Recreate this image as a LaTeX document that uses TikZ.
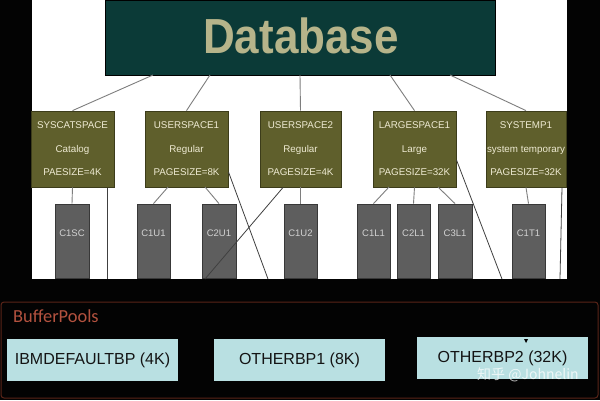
\documentclass[tikz,border=0pt]{standalone}
\usepackage{fontspec}
\setmainfont{Liberation Sans}
\newfontfamily\calfont{Carlito}
\newfontfamily\cjkfont{Noto Sans CJK SC}
\definecolor{bgblack}{HTML}{030303}
\definecolor{dbfill}{HTML}{0B3A37}
\definecolor{dbtext}{HTML}{B6B48A}
\definecolor{tsfill}{HTML}{5F5F2C}
\definecolor{tsdraw}{HTML}{3C3C1A}
\definecolor{tstext}{HTML}{EEEAD2}
\definecolor{ctfill}{HTML}{5E5E5E}
\definecolor{ctdraw}{HTML}{383838}
\definecolor{cttext}{HTML}{D2D2D2}
\definecolor{linegray}{HTML}{7E7E7E}
\definecolor{bpfill}{HTML}{B9E0E2}
\definecolor{bptext}{HTML}{141414}
\definecolor{bpred}{HTML}{B4523F}
\definecolor{bpframe}{HTML}{5A2418}
\begin{document}
\begin{tikzpicture}[x=1pt,y=-1pt,
  dbbox/.style={fill=dbfill,draw=black,line width=0.8pt,minimum width=390pt,minimum height=75pt,inner sep=0pt},
  tsbox/.style={fill=tsfill,draw=tsdraw,line width=0.8pt,minimum height=76pt,inner sep=0pt,
     text=tstext,font=\fontsize{9.8}{23.5}\selectfont,align=center},
  ctbox/.style={fill=ctfill,draw=ctdraw,line width=0.8pt,minimum width=34pt,minimum height=74pt,inner sep=0pt},
  cttxt/.style={text=cttext,font=\fontsize{9.5}{11}\selectfont,inner sep=0pt},
  conn/.style={draw=linegray,line width=0.9pt},
  bpline/.style={draw=black!75,line width=0.8pt},
  bpbox/.style={fill=bpfill,minimum width=171pt,minimum height=42pt,inner sep=0pt,
     text=bptext,font=\fontsize{16}{18}\selectfont}]
\useasboundingbox (0,0) rectangle (600,400);
\fill[bgblack] (0,0) rectangle (600,400);
% white panel
\fill[white] (32,0) rectangle (567,279);
% database
\node[dbbox] (db) at (300,37.5) {};
\node[text=dbtext,inner sep=0pt,font=\bfseries\fontsize{44}{44}\selectfont] (dbt) at (301,36) {\scalebox{1}[1.12]{Database}};
% coordinates on the database bottom
\coordinate (d1) at (153,75);
\coordinate (d2) at (210,75);
\coordinate (d3) at (300,75);
\coordinate (d4) at (390,75);
\coordinate (d5) at (450,75);
% tablespaces
\node[tsbox,minimum width=83pt] (sys) at (72.5,149) {SYSCATSPACE\\Catalog\\PAESIZE=4K};
\node[tsbox,minimum width=83pt] (us1) at (186.5,149) {USERSPACE1\\Regular\\PAGESIZE=8K};
\node[tsbox,minimum width=81pt] (us2) at (300.5,149) {USERSPACE2\\Regular\\PAGESIZE=4K};
\node[tsbox,minimum width=83pt] (lg1) at (414.5,149) {LARGESPACE1\\Large\\PAGESIZE=32K};
\node[tsbox,minimum width=80pt] (tmp) at (526,149) {SYSTEMP1\\system temporary\\PAGESIZE=32K};
% database connectors
\draw[conn] (d1) -- (sys.north);
\draw[conn] (d2) -- (us1.north);
\draw[conn] (d3) -- (us2.north);
\draw[conn] (d4) -- (lg1.north);
\draw[conn] (d5) -- (tmp.north);
% containers
\node[ctbox] (c1sc) at (72,241) {};
\node[ctbox,minimum width=33pt] (c1u1) at (153.5,241) {};
\node[ctbox] (c2u1) at (219,241) {};
\node[ctbox,minimum width=33pt] (c1u2) at (300.5,241) {};
\node[ctbox,minimum width=33pt] (c1l1) at (373.5,241) {};
\node[ctbox,minimum width=33pt] (c2l1) at (413.5,241) {};
\node[ctbox] (c3l1) at (455,241) {};
\node[ctbox,minimum width=33pt] (c1t1) at (528.5,241) {};
\node[cttxt] (c1sct) at (72,233) {C1SC};
\node[cttxt] (c1u1t) at (153.5,233) {C1U1};
\node[cttxt] (c2u1t) at (219,233) {C2U1};
\node[cttxt] (c1u2t) at (300.5,233) {C1U2};
\node[cttxt] (c1l1t) at (373.5,233) {C1L1};
\node[cttxt] (c2l1t) at (413.5,233) {C2L1};
\node[cttxt] (c3l1t) at (455,233) {C3L1};
\node[cttxt] (c1t1t) at (528.5,233) {C1T1};
% tablespace -> container connectors
\coordinate (s1) at (168,187);
\coordinate (s2) at (205,187);
\coordinate (s3) at (389,187);
\coordinate (s4) at (438,187);
\draw[conn] (sys.south) -- (c1sc.north);
\draw[conn] (s1) -- (c1u1.north);
\draw[conn] (s2) -- (c2u1.north);
\draw[conn] (us2.south) -- (c1u2.north);
\draw[conn] (s3) -- (c1l1.north);
\draw[conn] (lg1.south) -- (c2l1.north);
\draw[conn] (s4) -- (c3l1.north);
\draw[conn] (tmp.south) -- (c1t1.north);
% tablespace -> bufferpool lines
\coordinate (a1) at (107,187.5);  \coordinate (b1) at (107,279);
\coordinate (a2) at (228.5,172);  \coordinate (b2) at (268,279);
\coordinate (a3) at (283,187.5);  \coordinate (b3) at (205,279);
\coordinate (a4) at (456.5,160);  \coordinate (b4) at (502,279);
\coordinate (a5) at (562,187.5);  \coordinate (b5) at (560,279);
\draw[bpline] (a1) -- (b1);
\draw[bpline] (a2) -- (b2);
\draw[bpline] (a3) -- (b3);
\draw[bpline] (a4) -- (b4);
\draw[bpline] (a5) -- (b5);
% bufferpools frame
\draw[bpframe,line width=1pt,rounded corners=3pt] (1,302) rectangle (598,398);
\node[text=bpred,font=\calfont\fontsize{18.4}{20}\selectfont,anchor=base west,inner sep=0pt] (bpl) at (13,322) {BufferPools};
\node[bpbox] (bp0) at (92.5,360) {IBMDEFAULTBP (4K)};
\node[bpbox] (bp1) at (299.5,360) {OTHERBP1 (8K)};
\node[bpbox] (bp2) at (502.5,358) {OTHERBP2 (32K)};
\fill[black] (524,339) -- (528,339) -- (526,343) -- cycle;
% watermark
\node[text=white,opacity=0.75,font=\cjkfont\fontsize{14}{16}\selectfont,inner sep=0pt] (wm) at (528,375) {知乎 @Johnelin};
\end{tikzpicture}
\end{document}
